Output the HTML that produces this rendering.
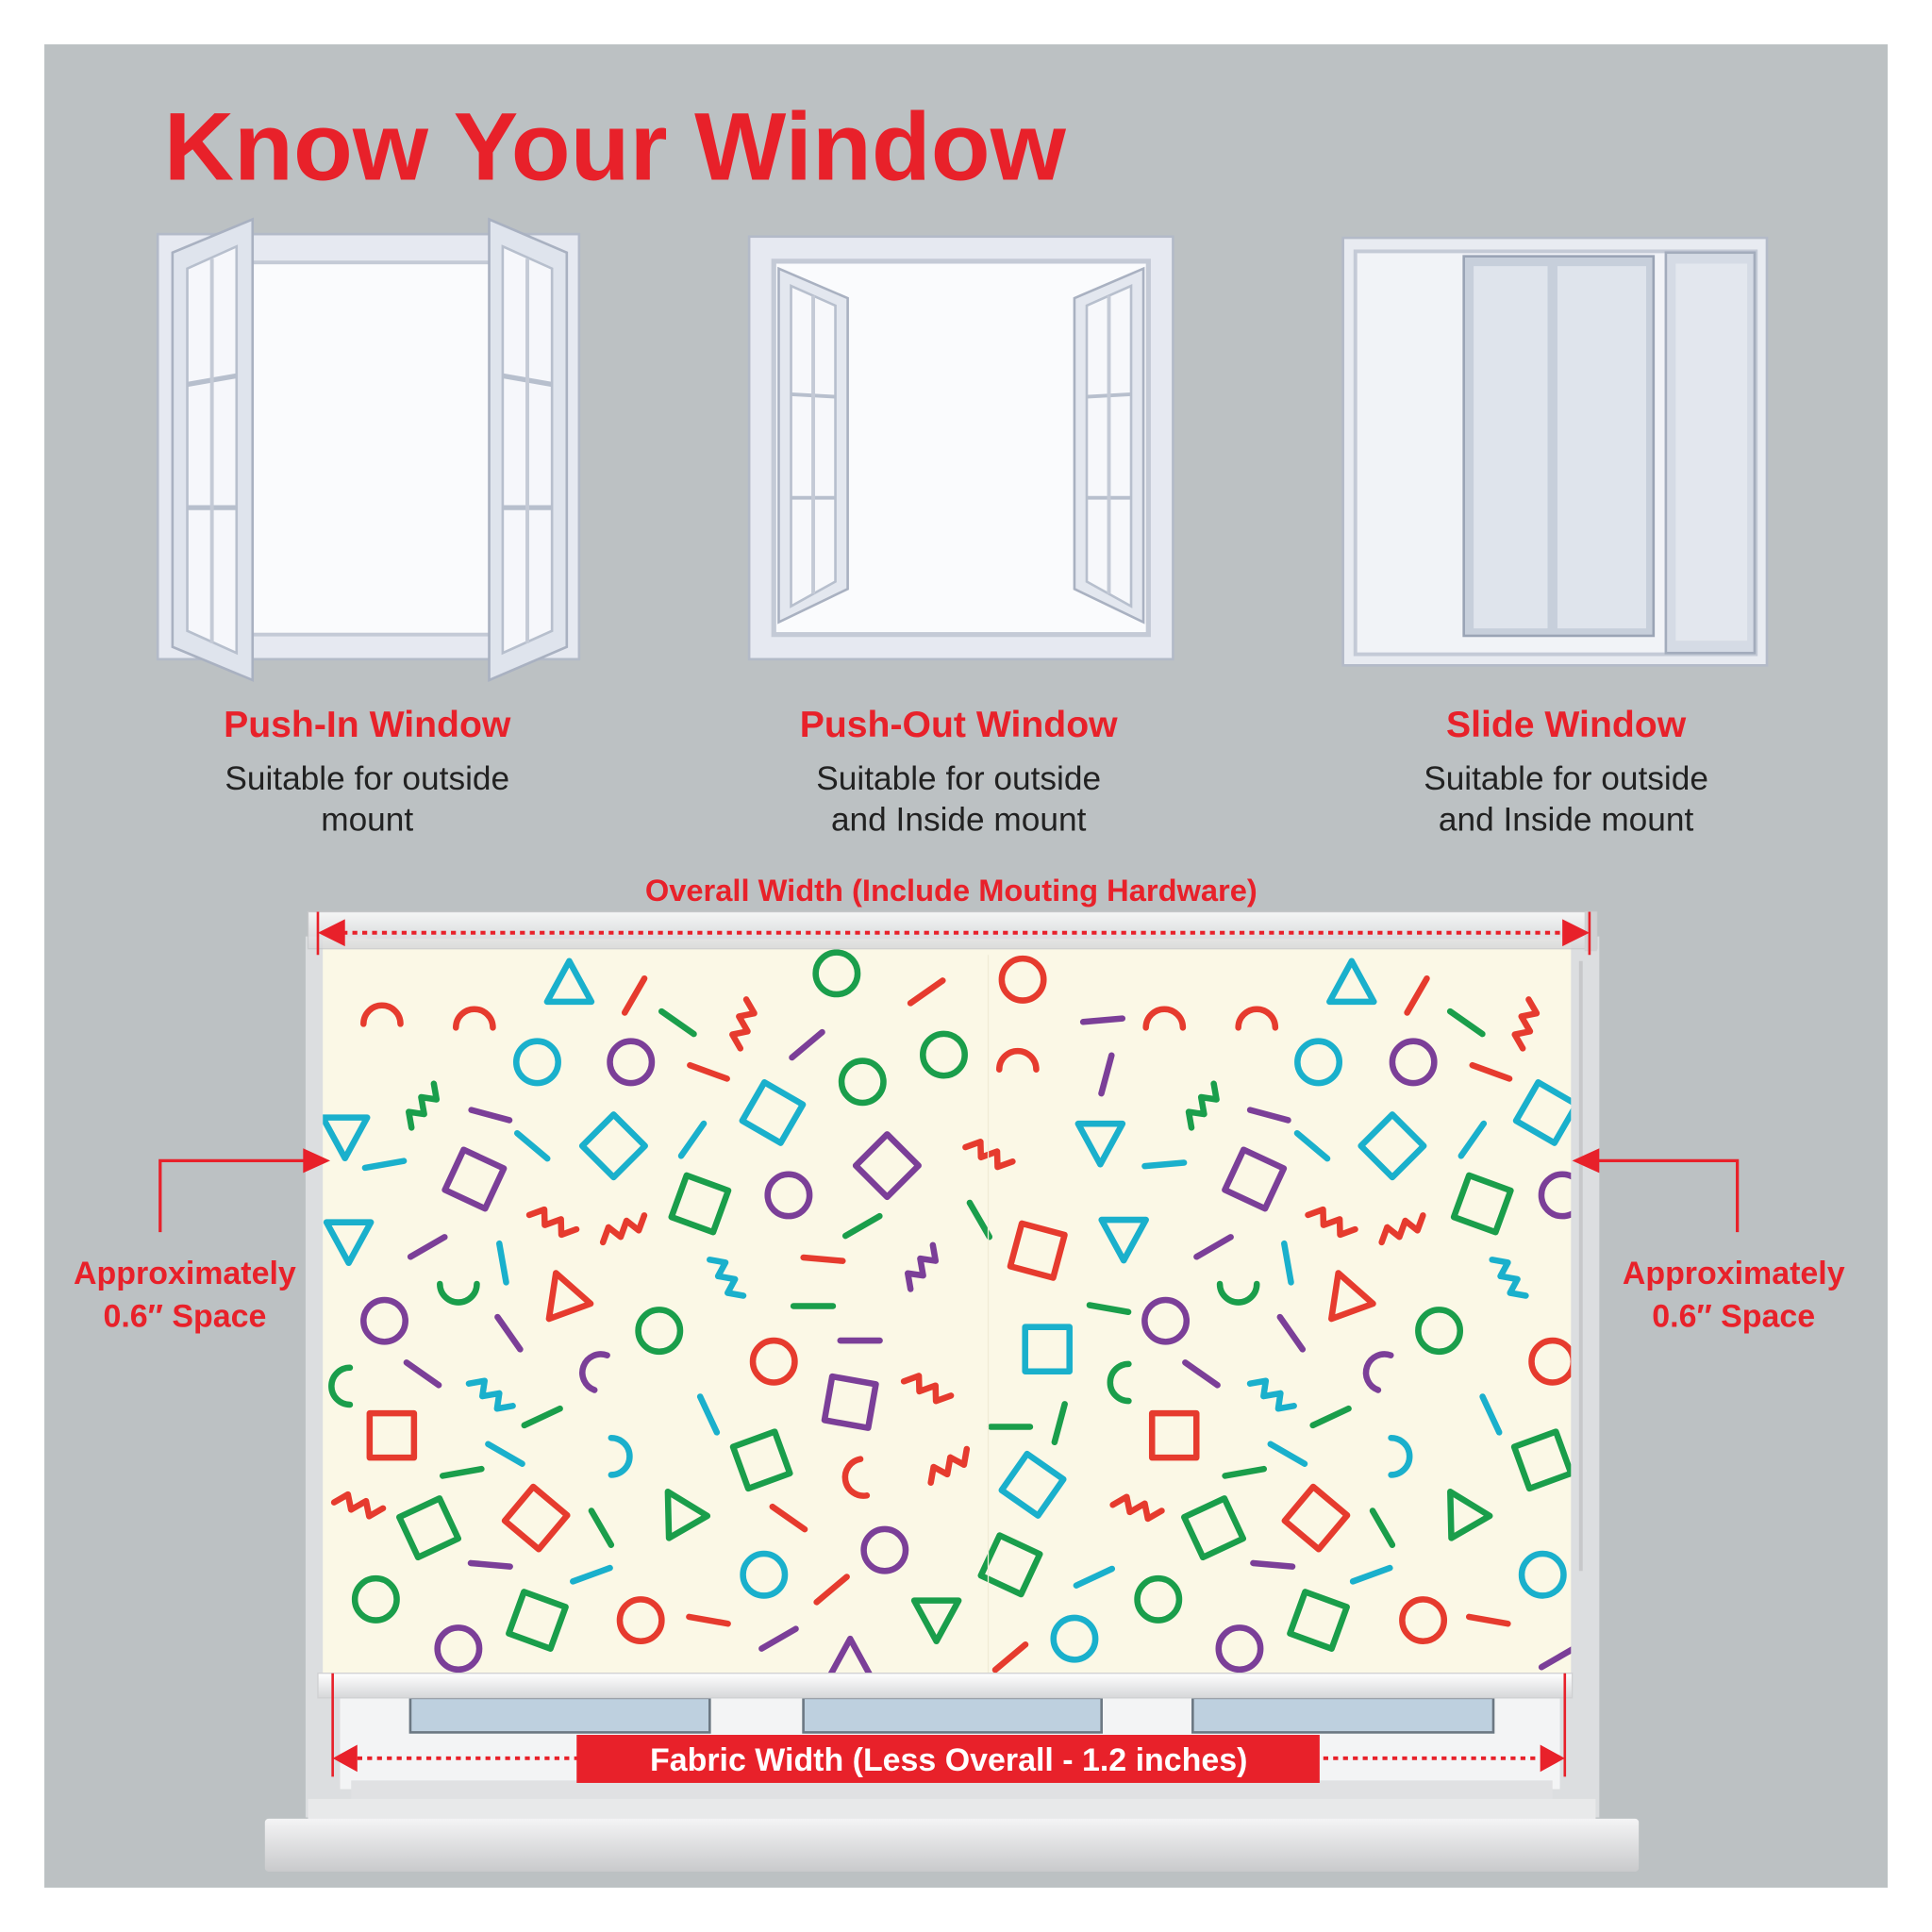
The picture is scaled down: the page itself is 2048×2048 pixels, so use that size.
<!DOCTYPE html>
<html><head><meta charset="utf-8"><style>
html,body{margin:0;padding:0;background:#fff;}
svg{display:block;}
.r{stroke:#e63b2e}.g{stroke:#1a9e4b}.c{stroke:#1ab0cc}.p{stroke:#7b3f98}
</style></head><body>
<svg width="2048" height="2048" viewBox="0 0 1568 1568" xmlns="http://www.w3.org/2000/svg" font-family="'Liberation Sans', sans-serif">
<defs>
<g id="ci"><circle cx="0" cy="0" r="17"/></g>
<g id="sq"><rect x="-18" y="-18" width="36" height="36"/></g>
<g id="tr"><path d="M0,-20 L18,13 L-18,13 Z"/></g>
<g id="ar"><path d="M-15,6 A15,15 0 0 1 15,6"/></g>
<g id="zz"><path d="M-16,-10 L-3,-10 L-7,2 L7,2 L3,14 L16,14"/></g>
<g id="ln"><line x1="-16" y1="0" x2="16" y2="0"/></g>
<clipPath id="fab"><rect x="262" y="762" width="1013" height="598"/></clipPath>
<linearGradient id="sill" x1="0" y1="0" x2="0" y2="1"><stop offset="0" stop-color="#f4f4f5"/><stop offset="1" stop-color="#c9cacc"/></linearGradient>
<linearGradient id="bar" x1="0" y1="0" x2="0" y2="1"><stop offset="0" stop-color="#ffffff"/><stop offset="1" stop-color="#d6d7d9"/></linearGradient>
</defs>
<rect width="1568" height="1568" fill="#fff"/>
<rect x="36" y="36" width="1496" height="1496" fill="#bcc1c3"/>
<text x="133" y="146" font-size="78" font-weight="bold" fill="#e8212a" textLength="732" lengthAdjust="spacingAndGlyphs">Know Your Window</text>

<!-- Window 1 -->
<rect x="128" y="190" width="342" height="345" fill="#e6e9f1" stroke="#b3bac8" stroke-width="2"/>
<rect x="150" y="213" width="300" height="302" fill="#fafbfd" stroke="#c4cad6" stroke-width="3"/>
<polygon points="140,205 205,178 205,552 140,525" fill="#dfe4ed" stroke="#a9b1c1" stroke-width="2"/>
<polygon points="152,218 192,200 192,530 152,512" fill="#f6f7fb" stroke="#b7bfcd" stroke-width="2"/>
<line x1="152" y1="312" x2="192" y2="305" stroke="#b7bfcd" stroke-width="4"/>
<line x1="152" y1="412" x2="192" y2="412" stroke="#b7bfcd" stroke-width="4"/>
<line x1="172" y1="210" x2="172" y2="522" stroke="#c4cad6" stroke-width="3"/>
<polygon points="397,178 460,205 460,525 397,552" fill="#dfe4ed" stroke="#a9b1c1" stroke-width="2"/>
<polygon points="408,200 448,218 448,512 408,530" fill="#f6f7fb" stroke="#b7bfcd" stroke-width="2"/>
<line x1="408" y1="305" x2="448" y2="312" stroke="#b7bfcd" stroke-width="4"/>
<line x1="408" y1="412" x2="448" y2="412" stroke="#b7bfcd" stroke-width="4"/>
<line x1="428" y1="210" x2="428" y2="522" stroke="#c4cad6" stroke-width="3"/>

<!-- Window 2 -->
<rect x="608" y="192" width="344" height="343" fill="#e6e9f1" stroke="#b3bac8" stroke-width="2"/>
<rect x="628" y="212" width="304" height="303" fill="#fafbfd" stroke="#c4cad6" stroke-width="4"/>
<polygon points="632,218 688,242 688,478 632,505" fill="#e3e7ef" stroke="#a9b1c1" stroke-width="2"/>
<polygon points="642,232 678,248 678,472 642,492" fill="#f7f8fb" stroke="#b7bfcd" stroke-width="2"/>
<line x1="642" y1="320" x2="678" y2="322" stroke="#b7bfcd" stroke-width="3"/>
<line x1="642" y1="404" x2="678" y2="404" stroke="#b7bfcd" stroke-width="3"/>
<line x1="660" y1="240" x2="660" y2="482" stroke="#c4cad6" stroke-width="3"/>
<polygon points="872,242 928,218 928,505 872,478" fill="#e3e7ef" stroke="#a9b1c1" stroke-width="2"/>
<polygon points="882,248 918,232 918,492 882,472" fill="#f7f8fb" stroke="#b7bfcd" stroke-width="2"/>
<line x1="882" y1="322" x2="918" y2="320" stroke="#b7bfcd" stroke-width="3"/>
<line x1="882" y1="404" x2="918" y2="404" stroke="#b7bfcd" stroke-width="3"/>
<line x1="900" y1="240" x2="900" y2="482" stroke="#c4cad6" stroke-width="3"/>

<!-- Window 3 -->
<rect x="1090" y="193" width="344" height="347" fill="#e8ebf1" stroke="#b3bac8" stroke-width="2"/>
<rect x="1100" y="204" width="325" height="327" fill="#f1f3f7" stroke="#c4cad6" stroke-width="3"/>
<rect x="1188" y="208" width="154" height="308" fill="#c7cfdb" stroke="#9aa4b5" stroke-width="2"/>
<rect x="1196" y="216" width="60" height="294" fill="#dfe4ec"/>
<rect x="1264" y="216" width="72" height="294" fill="#dfe4ec"/>
<rect x="1352" y="205" width="72" height="325" fill="#d5dbe5" stroke="#a3acbc" stroke-width="2"/>
<rect x="1360" y="214" width="58" height="306" fill="#e3e7ee"/>

<!-- Window labels -->
<g font-weight="bold" fill="#e8212a" font-size="30" text-anchor="middle">
<text x="298" y="598">Push-In Window</text>
<text x="778" y="598">Push-Out Window</text>
<text x="1271" y="598">Slide Window</text>
</g>
<g fill="#222" font-size="27" text-anchor="middle">
<text x="298" y="641">Suitable for outside</text>
<text x="298" y="674">mount</text>
<text x="778" y="641">Suitable for outside</text>
<text x="778" y="674">and Inside mount</text>
<text x="1271" y="641">Suitable for outside</text>
<text x="1271" y="674">and Inside mount</text>
</g>
<text x="772" y="731" font-size="25" font-weight="bold" fill="#e8212a" text-anchor="middle">Overall Width (Include Mouting Hardware)</text>

<!-- Frame behind blind -->
<rect x="248" y="760" width="50" height="715" fill="#dcdee0"/>
<rect x="1248" y="760" width="50" height="715" fill="#dcdee0"/>
<rect x="276" y="1372" width="990" height="80" fill="#f3f4f5"/>
<rect x="333" y="1378" width="243" height="28" fill="#bed0df" stroke="#6c7883" stroke-width="2"/>
<rect x="652" y="1378" width="242" height="28" fill="#bed0df" stroke="#6c7883" stroke-width="2"/>
<rect x="968" y="1378" width="244" height="28" fill="#bed0df" stroke="#6c7883" stroke-width="2"/>
<rect x="285" y="1445" width="975" height="20" fill="#e0e1e3"/>
<rect x="250" y="1460" width="1045" height="18" fill="#e8e9ea"/>
<rect x="215" y="1476" width="1115" height="43" fill="url(#sill)" rx="3"/>

<!-- Fabric -->
<rect x="262" y="762" width="1013" height="598" fill="#fbf8e6"/>
<g clip-path="url(#fab)" fill="none" stroke-width="5" stroke-linecap="round" stroke-linejoin="round">
<use href="#ar" x="310" y="825" class="r"/><use href="#ar" x="385" y="828" transform="rotate(0)" class="r"/>
<use href="#tr" x="462" y="800" class="c"/><use href="#ln" transform="translate(515,808) rotate(-60)" class="r"/>
<use href="#ci" x="679" y="790" class="g"/><use href="#ln" transform="translate(752,805) rotate(-35)" class="r"/>
<use href="#ci" x="830" y="795" class="r"/><use href="#ln" transform="translate(895,828) rotate(-5)" class="p"/>
<use href="#ar" x="945" y="828" class="r"/><use href="#ar" x="1020" y="828" class="r"/>
<use href="#tr" x="1097" y="800" class="c"/><use href="#ln" transform="translate(1150,808) rotate(-60)" class="r"/>
<use href="#zz" transform="translate(605,830) rotate(60)" class="r"/><use href="#zz" transform="translate(1240,830) rotate(60)" class="r"/>
<use href="#ci" x="436" y="862" class="c"/><use href="#ci" x="512" y="862" class="p"/>
<use href="#ln" transform="translate(655,848) rotate(-40)" class="p"/><use href="#ci" x="700" y="878" class="g"/>
<use href="#ci" x="766" y="856" class="g"/><use href="#ar" x="826" y="862" class="r"/>
<use href="#ci" x="1070" y="862" class="c"/><use href="#ci" x="1147" y="862" class="p"/>
<use href="#ln" transform="translate(575,870) rotate(20)" class="r"/><use href="#ln" transform="translate(550,830) rotate(35)" class="g"/>
<use href="#ln" transform="translate(1190,830) rotate(35)" class="g"/><use href="#ln" transform="translate(1210,870) rotate(20)" class="r"/>
<use href="#zz" transform="translate(345,897) rotate(80)" class="g"/><use href="#ln" transform="translate(398,905) rotate(15)" class="p"/>
<use href="#sq" transform="translate(627,903) rotate(30)" class="c"/><use href="#sq" transform="translate(498,930) rotate(45)" class="c"/>
<use href="#ln" transform="translate(432,930) rotate(40)" class="c"/><use href="#ln" transform="translate(562,925) rotate(-55)" class="c"/>
<use href="#tr" transform="translate(893,925) rotate(180)" class="c"/><use href="#ln" transform="translate(898,872) rotate(-75)" class="p"/>
<use href="#zz" transform="translate(978,897) rotate(80)" class="g"/><use href="#ln" transform="translate(1030,905) rotate(15)" class="p"/>
<use href="#sq" transform="translate(1130,930) rotate(45)" class="c"/><use href="#sq" transform="translate(1255,903) rotate(30)" class="c"/>
<use href="#ln" transform="translate(1195,925) rotate(-55)" class="c"/><use href="#ln" transform="translate(1065,930) rotate(40)" class="c"/>
<use href="#sq" transform="translate(385,957) rotate(25)" class="p"/><use href="#ln" transform="translate(312,945) rotate(-10)" class="c"/>
<use href="#sq" transform="translate(720,946) rotate(45)" class="p"/><use href="#sq" transform="translate(568,977) rotate(20)" class="g"/>
<use href="#ci" x="640" y="970" class="p"/><use href="#zz" transform="translate(802,935) rotate(-20)" class="r"/>
<use href="#ln" transform="translate(945,945) rotate(-5)" class="c"/><use href="#sq" transform="translate(1018,957) rotate(25)" class="p"/>
<use href="#sq" transform="translate(1203,977) rotate(20)" class="g"/><use href="#ci" x="1268" y="970" class="p"/>
<use href="#tr" transform="translate(280,920) rotate(180)" class="c"/>
<use href="#tr" transform="translate(283,1005) rotate(180)" class="c"/><use href="#zz" transform="translate(448,990) rotate(-20)" class="r"/>
<use href="#zz" transform="translate(508,998) rotate(110)" class="r"/><use href="#ln" transform="translate(347,1012) rotate(-30)" class="p"/>
<use href="#ln" transform="translate(700,995) rotate(-30)" class="g"/><use href="#ln" transform="translate(795,990) rotate(60)" class="g"/>
<use href="#sq" transform="translate(842,1015) rotate(15)" class="r"/><use href="#tr" transform="translate(912,1003) rotate(180)" class="c"/>
<use href="#zz" transform="translate(1080,990) rotate(-20)" class="r"/><use href="#zz" transform="translate(1140,998) rotate(110)" class="r"/>
<use href="#ln" transform="translate(985,1012) rotate(-30)" class="p"/>
<use href="#ln" transform="translate(408,1025) rotate(80)" class="c"/><use href="#zz" transform="translate(590,1035) rotate(10)" class="c"/>
<use href="#zz" transform="translate(750,1028) rotate(80)" class="p"/><use href="#ln" transform="translate(668,1022) rotate(5)" class="r"/>
<use href="#tr" transform="translate(458,1052) rotate(-20)" class="r"/><use href="#ar" transform="translate(372,1048) rotate(180)" class="g"/>
<use href="#ln" transform="translate(660,1060) rotate(0)" class="g"/><use href="#ln" transform="translate(1045,1025) rotate(80)" class="c"/>
<use href="#zz" transform="translate(1225,1035) rotate(10)" class="c"/><use href="#tr" transform="translate(1093,1052) rotate(-20)" class="r"/>
<use href="#ar" transform="translate(1005,1048) rotate(180)" class="g"/>
<use href="#ci" x="312" y="1072" class="p"/><use href="#ln" transform="translate(413,1082) rotate(55)" class="p"/>
<use href="#ci" x="535" y="1080" class="g"/><use href="#ci" x="628" y="1105" class="r"/>
<use href="#ln" transform="translate(698,1088) rotate(0)" class="p"/><use href="#sq" transform="translate(850,1095) rotate(0)" class="c"/>
<use href="#ci" x="946" y="1072" class="p"/><use href="#ln" transform="translate(1048,1082) rotate(55)" class="p"/>
<use href="#ci" x="1168" y="1080" class="g"/><use href="#ci" x="1260" y="1105" class="r"/>
<use href="#ln" transform="translate(900,1062) rotate(10)" class="g"/>
<use href="#ar" transform="translate(482,1112) rotate(-70)" class="p"/><use href="#ar" transform="translate(278,1125) rotate(-90)" class="g"/>
<use href="#ln" transform="translate(343,1115) rotate(35)" class="p"/><use href="#zz" transform="translate(398,1130) rotate(-10)" class="c"/>
<use href="#sq" transform="translate(690,1138) rotate(10)" class="p"/><use href="#zz" transform="translate(752,1125) rotate(-20)" class="r"/>
<use href="#ar" transform="translate(910,1122) rotate(-90)" class="g"/><use href="#ln" transform="translate(975,1115) rotate(35)" class="p"/>
<use href="#zz" transform="translate(1032,1130) rotate(-10)" class="c"/><use href="#ar" transform="translate(1118,1112) rotate(-70)" class="p"/>
<use href="#sq" x="318" y="1165" class="r"/><use href="#ln" transform="translate(440,1150) rotate(-25)" class="g"/>
<use href="#ln" transform="translate(575,1148) rotate(65)" class="c"/><use href="#ar" transform="translate(502,1182) rotate(90)" class="c"/>
<use href="#sq" transform="translate(618,1185) rotate(-20)" class="g"/><use href="#zz" transform="translate(772,1190) rotate(100)" class="r"/>
<use href="#ln" transform="translate(820,1158) rotate(0)" class="g"/><use href="#ln" transform="translate(860,1155) rotate(-75)" class="g"/>
<use href="#sq" x="953" y="1165" class="r"/><use href="#ln" transform="translate(1080,1150) rotate(-25)" class="g"/>
<use href="#ln" transform="translate(1210,1148) rotate(65)" class="c"/><use href="#ar" transform="translate(1135,1182) rotate(90)" class="c"/>
<use href="#sq" transform="translate(1252,1185) rotate(-20)" class="g"/><use href="#ln" transform="translate(1010,1195) rotate(-10)" class="g"/>
<use href="#ln" transform="translate(375,1195) rotate(-10)" class="g"/><use href="#ln" transform="translate(410,1180) rotate(30)" class="c"/>
<use href="#ln" transform="translate(1045,1180) rotate(30)" class="c"/>
<use href="#zz" transform="translate(290,1220) rotate(-30)" class="r"/><use href="#sq" transform="translate(348,1240) rotate(-25)" class="g"/>
<use href="#sq" transform="translate(435,1232) rotate(40)" class="r"/><use href="#ln" transform="translate(488,1240) rotate(60)" class="g"/>
<use href="#tr" transform="translate(552,1228) rotate(-30)" class="g"/><use href="#ar" transform="translate(695,1200) rotate(-100)" class="r"/>
<use href="#ln" transform="translate(640,1232) rotate(35)" class="r"/><use href="#sq" transform="translate(838,1205) rotate(35)" class="c"/>
<use href="#zz" transform="translate(922,1222) rotate(-30)" class="r"/><use href="#sq" transform="translate(985,1240) rotate(-25)" class="g"/>
<use href="#sq" transform="translate(1068,1232) rotate(40)" class="r"/><use href="#ln" transform="translate(1122,1240) rotate(60)" class="g"/>
<use href="#tr" transform="translate(1187,1228) rotate(-30)" class="g"/>
<use href="#ci" x="305" y="1298" class="g"/><use href="#ln" transform="translate(398,1270) rotate(5)" class="p"/>
<use href="#ln" transform="translate(480,1278) rotate(-20)" class="c"/><use href="#ci" x="620" y="1278" class="c"/>
<use href="#ci" x="718" y="1258" class="p"/><use href="#sq" transform="translate(820,1270) rotate(25)" class="g"/>
<use href="#ln" transform="translate(888,1280) rotate(-25)" class="c"/><use href="#ci" x="940" y="1298" class="g"/>
<use href="#ln" transform="translate(1033,1270) rotate(5)" class="p"/><use href="#ln" transform="translate(1113,1278) rotate(-20)" class="c"/>
<use href="#ci" x="1252" y="1278" class="c"/><use href="#ln" transform="translate(675,1290) rotate(-40)" class="r"/>
<use href="#ci" x="372" y="1338" class="p"/><use href="#sq" transform="translate(436,1315) rotate(20)" class="g"/>
<use href="#ci" x="520" y="1315" class="r"/><use href="#ln" transform="translate(575,1315) rotate(10)" class="r"/>
<use href="#ln" transform="translate(632,1330) rotate(-30)" class="p"/><use href="#tr" transform="translate(690,1350) rotate(0)" class="p"/>
<use href="#tr" transform="translate(760,1312) rotate(180)" class="g"/><use href="#ci" x="872" y="1330" class="c"/>
<use href="#ln" transform="translate(820,1345) rotate(-40)" class="r"/><use href="#ci" x="1006" y="1338" class="p"/>
<use href="#sq" transform="translate(1070,1315) rotate(20)" class="g"/><use href="#ci" x="1155" y="1315" class="r"/>
<use href="#ln" transform="translate(1208,1315) rotate(10)" class="r"/><use href="#ln" transform="translate(1265,1345) rotate(-30)" class="p"/>
</g>
<line x1="802" y1="775" x2="802" y2="1358" stroke="#f0ecd6" stroke-width="1"/>

<!-- Roller top and bottom bars -->
<rect x="250" y="740" width="1046" height="30" fill="url(#bar)" opacity="0.85" stroke="#c8c9cb"/>
<rect x="1286" y="740" width="10" height="32" fill="#d0d1d3"/>
<rect x="258" y="1358" width="1018" height="20" fill="url(#bar)" stroke="#cfd0d2"/>
<line x1="1283" y1="780" x2="1283" y2="1275" stroke="#c7c8ca" stroke-width="3"/>

<!-- Overall width dimension -->
<line x1="258" y1="740" x2="258" y2="775" stroke="#e8212a" stroke-width="2"/>
<line x1="1290" y1="740" x2="1290" y2="775" stroke="#e8212a" stroke-width="2"/>
<line x1="278" y1="757" x2="1270" y2="757" stroke="#e8212a" stroke-width="3" stroke-dasharray="4,4"/>
<polygon points="258,757 280,746 280,768" fill="#e8212a"/>
<polygon points="1290,757 1268,746 1268,768" fill="#e8212a"/>

<!-- Fabric width dimension -->
<line x1="270" y1="1358" x2="270" y2="1442" stroke="#e8212a" stroke-width="2"/>
<line x1="1270" y1="1358" x2="1270" y2="1442" stroke="#e8212a" stroke-width="2"/>
<line x1="290" y1="1427" x2="1250" y2="1427" stroke="#e8212a" stroke-width="3" stroke-dasharray="4,4"/>
<polygon points="270,1427 290,1416 290,1438" fill="#e8212a"/>
<polygon points="1270,1427 1250,1416 1250,1438" fill="#e8212a"/>
<rect x="468" y="1408" width="603" height="39" fill="#e8212a"/>
<text x="770" y="1437" font-size="26" font-weight="bold" fill="#fff" text-anchor="middle">Fabric Width (Less Overall - 1.2 inches)</text>

<!-- Side annotations -->
<polyline points="130,1000 130,942 250,942" fill="none" stroke="#e8212a" stroke-width="2.5"/>
<polygon points="268,942 246,932 246,952" fill="#e8212a"/>
<polyline points="1410,1000 1410,942 1295,942" fill="none" stroke="#e8212a" stroke-width="2.5"/>
<polygon points="1276,942 1298,932 1298,952" fill="#e8212a"/>
<g font-size="26" font-weight="bold" fill="#e8212a" text-anchor="middle">
<text x="150" y="1042">Approximately</text>
<text x="150" y="1077">0.6″ Space</text>
<text x="1407" y="1042">Approximately</text>
<text x="1407" y="1077">0.6″ Space</text>
</g>
</svg>
</body></html>
